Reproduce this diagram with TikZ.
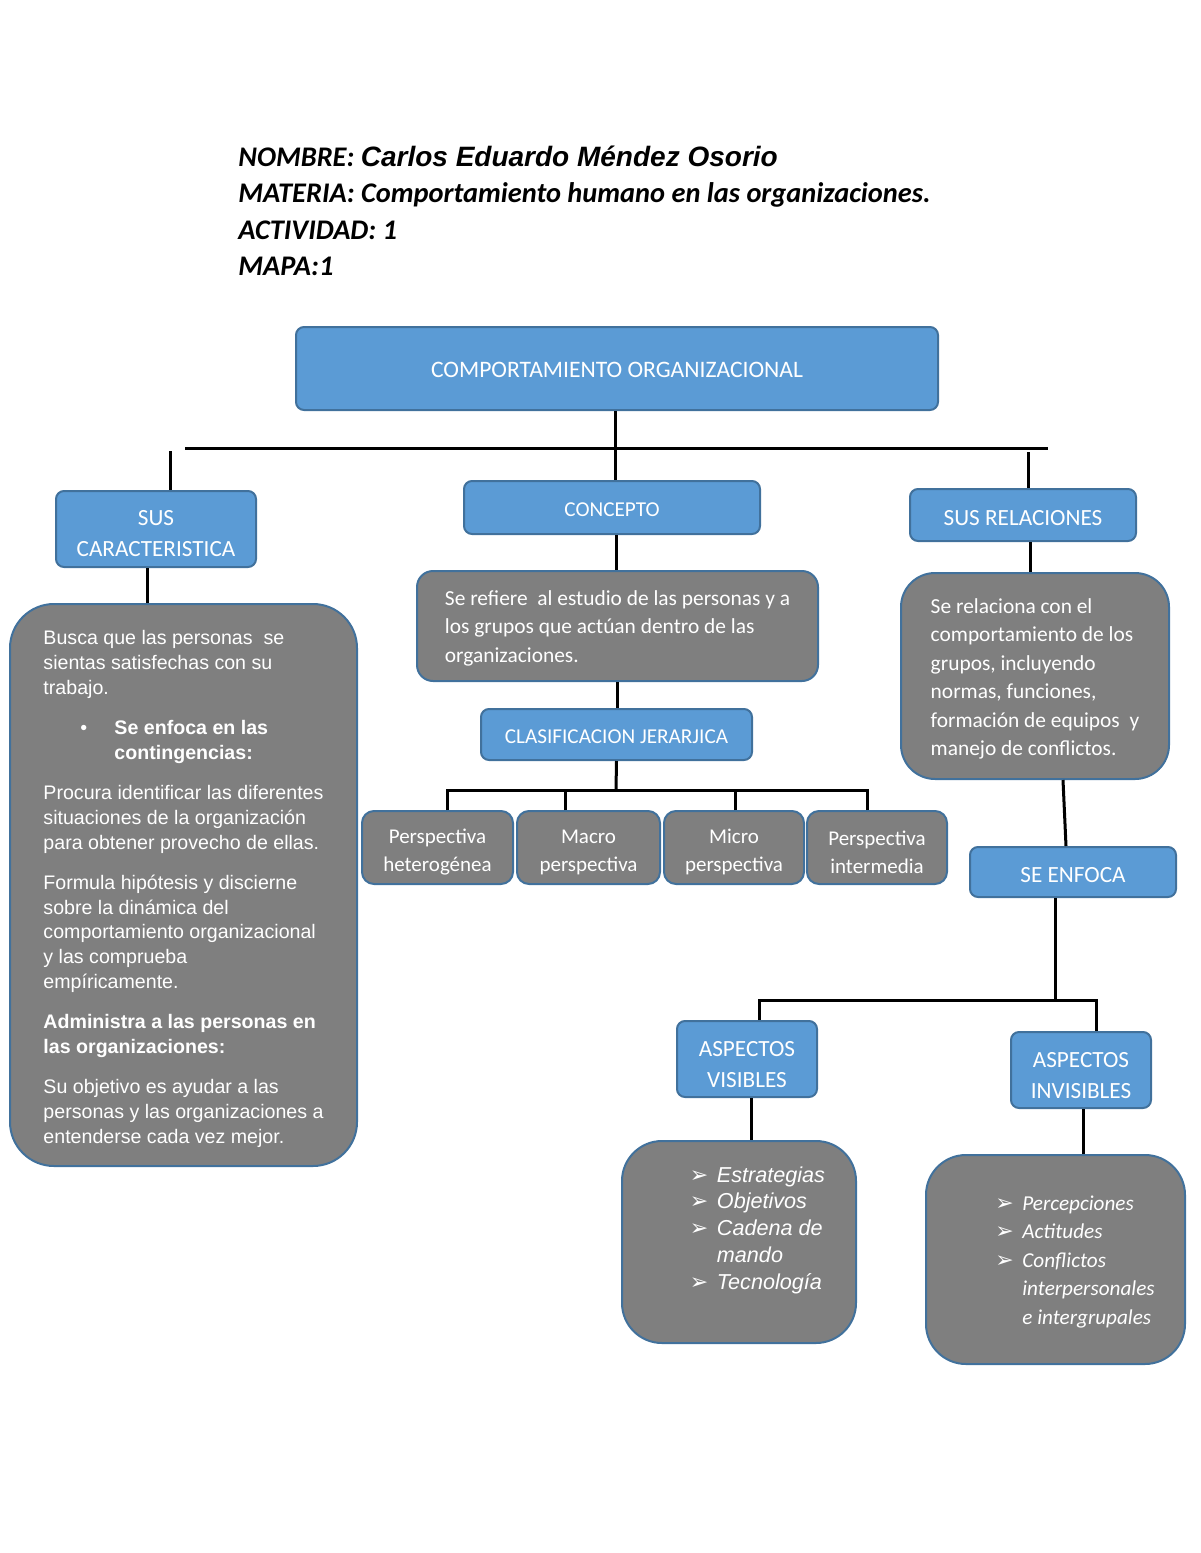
\documentclass[tikz,border=0pt]{standalone}
\usepackage{fontspec}
\setmainfont{Carlito}
\newfontfamily\arial{Liberation Sans}
\newfontfamily\dejavu{DejaVu Sans}
\usetikzlibrary{positioning}
\definecolor{azul}{HTML}{5B9BD5}
\definecolor{bordeazul}{HTML}{41719C}
\definecolor{gris}{HTML}{7F7F7F}
\newcommand{\flecha}{\makebox[13.5pt][l]{\dejavu\upshape\fontsize{11}{11}\selectfont ➢}}
\newcommand{\alto}[1]{\rule{0pt}{#1}}

\begin{document}
\begin{tikzpicture}[x=0.5pt, y=-0.5pt,
	azulnode/.style = {
		draw=bordeazul, fill=azul, line width=1pt, rounded corners=4pt,
		align=center, text=white, inner sep=0pt,
		execute at begin node={\rule{0pt}{9pt}},
		font=\fontsize{10.6}{14}\selectfont},
	lado/.style = {
		azulnode, execute at begin node={\rule{0pt}{11pt}},
		font=\fontsize{11.6}{15.5}\selectfont},
	grisnode/.style = {
		draw=bordeazul, fill=gris, line width=1pt, align=left,
		text=white, inner sep=0pt,
		font=\fontsize{10.7}{14.25}\selectfont},
	persp/.style = {
		grisnode, align=center, rounded corners=6pt,
		minimum width=70pt, minimum height=36.5pt,
		font=\fontsize{10.5}{14}\selectfont},
	lista/.style = {align=left, text=white, inner sep=0pt},
	cab/.style = {anchor=base west, inner sep=0pt,
		font=\fontsize{14.2}{17}\selectfont\bfseries\itshape},
	link/.style = {line width=1.5pt, black}
]
\useasboundingbox (0,0) rectangle (1200,1553);

\node (nombre)    [cab] at (238,166) {NOMBRE: {\arial\fontsize{14}{17}\selectfont Carlos Eduardo Méndez Osorio}};
\node (materia)   [cab] at (238,202) {MATERIA: Comportamiento humano en las organizaciones.};
\node (actividad) [cab] at (238,239) {ACTIVIDAD: 1};
\node (mapa)      [cab] at (238,275) {MAPA:1};

\node (titulo) [azulnode, minimum width=321pt, minimum height=41.5pt,
	font=\fontsize{11.8}{14}\selectfont]
	at (617,368.5) {COMPORTAMIENTO ORGANIZACIONAL};

% rama izquierda
\node (caract) [lado, minimum width=100pt, minimum height=38pt]
	at (156,529) {\alto{12.5pt}SUS\\CARACTERISTICA};
\node (caracttxt) [grisnode, rounded corners=22pt, minimum width=173.5pt,
	minimum height=281pt, font=\arial\fontsize{9.8}{12.3}\selectfont]
	at (183.5,885) {\alto{11pt}Busca que las personas\ \ se\\ sientas satisfechas con su\\ trabajo.\\[8pt]
	\hspace*{18.5pt}\makebox[17pt][l]{•}\textbf{Se enfoca en las}\\
	\hspace*{35.5pt}\textbf{contingencias:}\\[8pt]
	Procura identificar las diferentes\\ situaciones de la organización\\ para obtener provecho de ellas.\\[8pt]
	Formula hipótesis y discierne\\ sobre la dinámica del\\ comportamiento organizacional\\ y las comprueba\\ empíricamente.\\[8pt]
	\textbf{Administra a las personas en}\\ \textbf{las organizaciones:}\\[8pt]
	Su objetivo es ayudar a las\\ personas y las organizaciones a\\ entenderse cada vez mejor.};

% rama central
\node (concepto) [azulnode, minimum width=148pt, minimum height=26.5pt]
	at (612,507.5) {CONCEPTO};
\node (defin) [grisnode, rounded corners=8pt, minimum width=200.5pt, minimum height=55pt]
	at (617.5,626) {\alto{9.5pt}Se refiere\ \ al estudio de las personas y a\\ los grupos que actúan dentro de las\\ organizaciones.};
\node (clasif) [azulnode, minimum width=135.5pt, minimum height=25.5pt]
	at (616.5,734.5) {CLASIFICACION JERARJICA};
\node (p1) [persp, minimum width=75.5pt] at (437.5,847.5) {\alto{11.8pt}Perspectiva\\heterogénea};
\node (p2) [persp, minimum width=71.5pt] at (588.5,847.5) {\alto{11.8pt}Macro\\perspectiva};
\node (p3) [persp] at (734,847.5) {\alto{11.8pt}Micro\\perspectiva};
\node (p4) [persp] at (877,847.5) {\alto{11.8pt}Perspectiva\\intermedia};

% rama derecha
\node (relac) [lado, minimum width=113pt, minimum height=26pt]
	at (1023,515) {SUS RELACIONES};
\node (relactxt) [grisnode, rounded corners=17pt, minimum width=134pt, minimum height=103pt]
	at (1035,676) {\alto{10.5pt}Se relaciona con el\\ comportamiento de los\\ grupos, incluyendo\\ normas, funciones,\\ formación de equipos\ \ y\\ manejo de conflictos.};
\node (enfoca) [lado, minimum width=103pt, minimum height=25pt]
	at (1073,872) {SE ENFOCA};
\node (vis) [lado, minimum width=70pt, minimum height=38pt]
	at (747,1059) {\alto{13.5pt}ASPECTOS\\VISIBLES};
\node (invis) [lado, minimum width=70pt, minimum height=38pt]
	at (1081,1070) {\alto{13.5pt}ASPECTOS\\INVISIBLES};
\node (visbox) [grisnode, rounded corners=20pt, minimum width=117pt, minimum height=101pt]
	at (739,1242) {};
\node (vislist) [lista, font=\arial\itshape\fontsize{10.8}{13.4}\selectfont]
	at (757.5,1230) {\flecha Estrategias\\ \flecha Objetivos\\ \flecha Cadena de\\
	\hspace*{13.5pt}mando\\ \flecha Tecnología};
\node (invisbox) [grisnode, rounded corners=20pt, minimum width=129.5pt, minimum height=104.5pt]
	at (1055.5,1259.5) {};
\node (invislist) [lista, font=\itshape\fontsize{10.6}{14.25}\selectfont]
	at (1075,1262) {\flecha Percepciones\\ \flecha Actitudes\\ \flecha Conflictos\\
	\hspace*{13.5pt}interpersonales\\ \hspace*{13.5pt}e intergrupales};

% conectores
\coordinate (barL) at (185,448);
\coordinate (barR) at (1048,448);
\coordinate (stubL) at (170,451);
\coordinate (stubR) at (1028,452);
\coordinate (b2) at (616,790);
\coordinate (b3) at (1055,1000);

\draw[link] (barL) -- (barR);
\draw[link] ([xshift=-1pt]titulo.south) -- ([xshift=-1pt]titulo.south |- concepto.north);
\draw[link] (stubL) -- (stubL |- caract.north);
\draw[link] (stubR) -- (stubR |- relac.north);
\draw[link] ([xshift=-4.5pt]caract.south) -- ([xshift=-4.5pt]caract.south |- caracttxt.north);

\draw[link] ([xshift=2pt]concepto.south) -- ([xshift=2pt]concepto.south |- defin.north);
\draw[link] (defin.south) -- (defin.south |- clasif.north);
\draw[link] (clasif.south) -- (b2);
\draw[link] ([xshift=5pt]p1.north) |- (b2);
\draw[link] ([xshift=-5pt]p4.north) |- (b2);
\draw[link] ([xshift=-11.5pt]p2.north) -- ([xshift=-11.5pt]p2.north |- b2);
\draw[link] ([xshift=0.5pt]p3.north) -- ([xshift=0.5pt]p3.north |- b2);

\draw[link] ([xshift=3.5pt]relac.south) -- ([xshift=3.5pt]relac.south |- relactxt.north);
\draw[link] ([xshift=14pt]relactxt.south) -- ([xshift=-3.5pt]enfoca.north);
\draw[link] ([xshift=-9pt]enfoca.south) -- (b3);
\draw[link] ([xshift=6pt]vis.north) |- ([xshift=7.5pt]invis.north |- b3) -- ([xshift=7.5pt]invis.north);
\draw[link] ([xshift=2pt]vis.south) -- ([xshift=2pt]vis.south |- visbox.north);
\draw[link] ([xshift=1pt]invis.south) -- ([xshift=1pt]invis.south |- invisbox.north);
\end{tikzpicture}
\end{document}
